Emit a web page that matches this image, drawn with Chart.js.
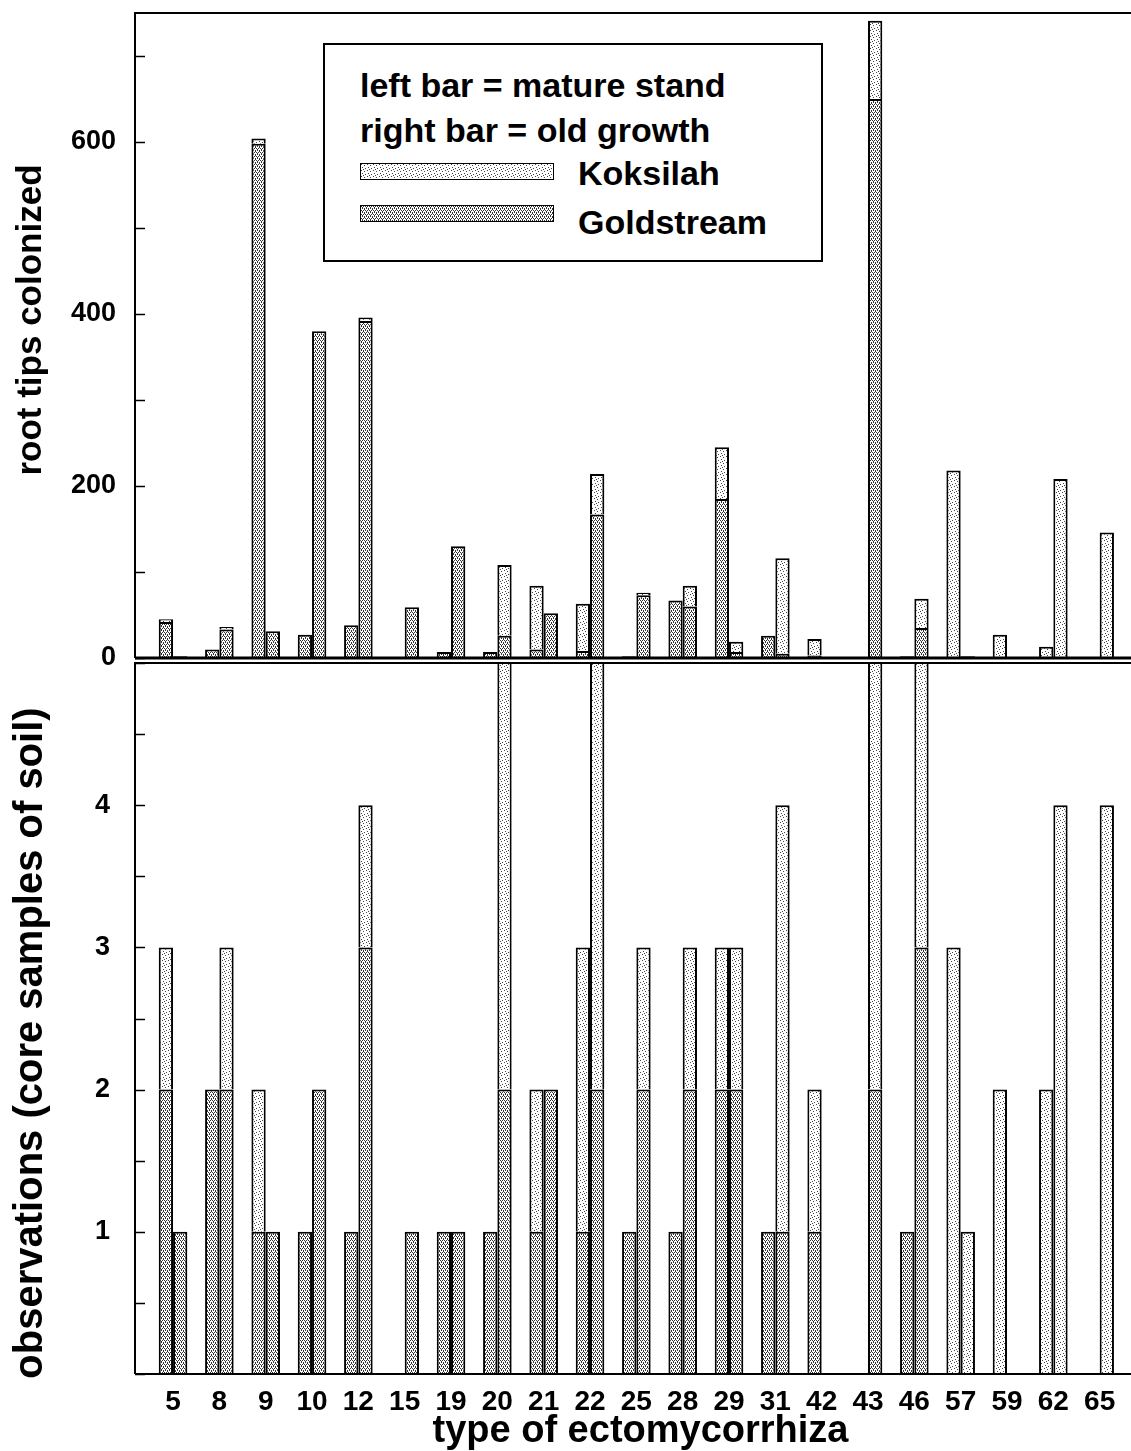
<!DOCTYPE html>
<html>
<head>
<meta charset="utf-8">
<script src="https://cdn.jsdelivr.net/npm/chart.js@4.4.1/dist/chart.umd.min.js"></script>
<style>
  html, body { margin: 0; padding: 0; background: #fff; overflow: hidden; }
  #wrap { position: relative; width: 1131px; height: 1451px; overflow: hidden; }
  canvas { position: absolute; left: 0; }
  #tips { top: 0; }
  #obs { top: 660px; }
  #key {
    position: absolute; left: 323px; top: 43px; width: 496px; height: 215px;
    border: 2px solid #000; background: #fff; z-index: 2;
    font: bold 34px "Liberation Sans", Arial, sans-serif; color: #000;
  }
  #key span { position: absolute; white-space: nowrap; line-height: 34px; }
  #key .sw { position: absolute; left: 35px; width: 192px; height: 15px; border: 1.5px solid #000; }
</style>
</head>
<body>
<div id="wrap">
  <canvas id="tips" width="1146" height="682"></canvas>
  <canvas id="obs" width="1146" height="791"></canvas>
  <div id="key">
    <span style="left:35px; top:23px">left bar = mature stand</span>
    <span style="left:35px; top:68px">right bar = old growth</span>
    <div class="sw" id="swK" style="top:118px"></div>
    <span style="left:253px; top:111px">Koksilah</span>
    <div class="sw" id="swG" style="top:160px"></div>
    <span style="left:253px; top:160px">Goldstream</span>
  </div>
</div>
<script>
const categories = ['5', '8', '9', '10', '12', '15', '19', '20', '21', '22', '25',
                    '28', '29', '31', '42', '43', '46', '57', '59', '62', '65'];

// root tips colonized; left bar = mature stand, right bar = old growth
const tipsMatureGoldstream = [42, 10, 598, 27, 38, 0, 7, 7, 10, 8, 2, 67, 185, 26, 3, 0, 2, 0, 0, 0, 0];
const tipsMatureKoksilah   = [3, 0, 6, 0, 0, 0, 0, 0, 74, 55, 0, 0, 60, 0, 19, 0, 0, 218, 27, 13, 0];
const tipsOldGoldstream    = [2, 33, 31, 380, 392, 59, 130, 26, 52, 167, 73, 60, 7, 5, 0, 650, 35, 0, 0, 0, 0];
const tipsOldKoksilah      = [0, 3, 0, 0, 4, 0, 0, 82, 0, 47, 3, 24, 12, 111, 0, 91, 34, 2, 0, 208, 146];

// observations (core samples of soil)
const obsMatureGoldstream = [2, 2, 1, 1, 1, 0, 1, 1, 1, 1, 1, 1, 2, 1, 1, 0, 1, 0, 0, 0, 0];
const obsMatureKoksilah   = [1, 0, 1, 0, 0, 0, 0, 0, 1, 2, 0, 0, 1, 0, 1, 0, 0, 3, 2, 2, 0];
const obsOldGoldstream    = [1, 2, 1, 2, 3, 1, 1, 2, 2, 2, 2, 2, 2, 1, 0, 2, 3, 0, 0, 0, 0];
const obsOldKoksilah      = [0, 1, 0, 0, 1, 0, 0, 4, 0, 4, 1, 1, 1, 3, 0, 6, 3, 1, 0, 4, 4];

const FONT = "'Liberation Sans', Arial, sans-serif";

// stipple tiles for the two sites
function tile(size, dots, ink) {
  const c = document.createElement('canvas');
  c.width = c.height = size;
  const g = c.getContext('2d');
  g.fillStyle = '#fff';
  g.fillRect(0, 0, size, size);
  g.fillStyle = ink;
  dots.forEach(([x, y]) => g.fillRect(x, y, 1, 1));
  return c;
}
const kokTile = tile(6, [[0, 0], [3, 1], [1, 3], [4, 4], [2, 5]], '#444');
const goldTile = tile(4, [[0, 0], [2, 0], [1, 1], [1, 2], [3, 2], [3, 3]], '#333');

document.getElementById('swK').style.background = `url(${kokTile.toDataURL()})`;
document.getElementById('swG').style.background = `url(${goldTile.toDataURL()})`;

// frame on top/left/bottom, short inward tick marks, rotated axis title
const frame = {
  id: 'frame',
  afterDatasetsDraw(chart, args, opts) {
    const { ctx, chartArea: a } = chart;
    const y = chart.scales.y;
    ctx.save();
    ctx.strokeStyle = '#000';
    ctx.lineWidth = 2;
    ctx.beginPath();
    ctx.moveTo(a.left, a.bottom);
    ctx.lineTo(a.left, a.top);
    ctx.lineTo(a.right, a.top);
    ctx.stroke();
    ctx.lineWidth = opts.baseWidth;
    ctx.beginPath();
    ctx.moveTo(a.left, a.bottom);
    ctx.lineTo(a.right, a.bottom);
    ctx.stroke();
    ctx.lineWidth = 1.5;
    for (let v = y.min; v <= y.max + 1e-9; v += opts.step) {
      const py = Math.round(y.getPixelForValue(v)) + 0.5;
      ctx.beginPath();
      ctx.moveTo(a.left, py);
      ctx.lineTo(a.left + 10, py);
      ctx.stroke();
    }
    ctx.restore();
  },
  afterDraw(chart, args, opts) {
    const ctx = chart.ctx;
    ctx.save();
    ctx.translate(opts.titleX, opts.titleY);
    ctx.rotate(-Math.PI / 2);
    ctx.font = `bold ${opts.titleSize}px ${FONT}`;
    ctx.fillStyle = '#000';
    ctx.textAlign = 'center';
    ctx.textBaseline = 'middle';
    ctx.fillText(opts.title, 0, 0);
    ctx.restore();
  }
};

function points(values) {
  return values.map((v, i) => ({ x: i, y: v === 0 ? null : v }));
}

// Goldstream sits at the foot of each bar, Koksilah on top of it
function datasets(ctx, goldMature, kokMature, goldOld, kokOld) {
  const kok = ctx.createPattern(kokTile, 'repeat');
  const gold = ctx.createPattern(goldTile, 'repeat');
  const common = {
    borderColor: '#000', borderWidth: 2, clip: 0,
    categoryPercentage: 0.617, barPercentage: 1
  };
  return [
    { label: 'Goldstream', stack: 'mature', data: points(goldMature), backgroundColor: gold, ...common },
    { label: 'Koksilah', stack: 'mature', data: points(kokMature), backgroundColor: kok, ...common },
    { label: 'Goldstream', stack: 'old', data: points(goldOld), backgroundColor: gold, ...common },
    { label: 'Koksilah', stack: 'old', data: points(kokOld), backgroundColor: kok, ...common }
  ];
}

function xAxis(show) {
  return {
    type: 'linear', min: -0.821, max: 21, offset: false, display: show,
    afterBuildTicks: axis => { axis.ticks = categories.map((c, i) => ({ value: i })); },
    afterFit: axis => {
      if (show) axis.height = 77;
      axis.paddingLeft = 0;
      axis.paddingRight = 0;
    },
    grid: { display: false, drawTicks: false },
    border: { display: false },
    ticks: {
      autoSkip: false, maxRotation: 0, padding: 11, color: '#000',
      font: { family: FONT, size: 28, weight: 'bold' },
      callback: v => categories[v]
    },
    title: {
      display: show, text: 'type of ectomycorrhiza', color: '#000', padding: 0,
      font: { family: FONT, size: 38, weight: 'bold', lineHeight: 1 }
    }
  };
}

function yAxis(max, step, labelPad, hideLabels) {
  return {
    stacked: true, min: 0, max: max,
    afterFit: axis => {
      axis.width = 135;
      axis.paddingTop = 0;
      axis.paddingBottom = 0;
    },
    grid: { display: false, drawTicks: false },
    border: { display: false },
    ticks: {
      stepSize: step, includeBounds: false, padding: labelPad, color: '#000',
      font: { family: FONT, size: 27, weight: 'bold' },
      callback: v => hideLabels.includes(v) ? '' : v
    }
  };
}

function panel(id, sets, x, y, frameOpts, padding) {
  const ctx = document.getElementById(id).getContext('2d');
  return new Chart(ctx, {
    type: 'bar',
    data: { datasets: sets(ctx) },
    options: {
      responsive: false,
      animation: false,
      devicePixelRatio: 1,
      layout: { padding: padding },
      plugins: { legend: { display: false }, tooltip: { enabled: false }, frame: frameOpts },
      scales: { x: x, y: y }
    },
    plugins: [frame]
  });
}

panel('tips',
  ctx => datasets(ctx, tipsMatureGoldstream, tipsMatureKoksilah, tipsOldGoldstream, tipsOldKoksilah),
  xAxis(false),
  yAxis(750, 200, 19, []),
  { step: 100, baseWidth: 3, title: 'root tips colonized', titleSize: 35, titleX: 31, titleY: 320 },
  { top: 13, bottom: 24, left: 0, right: 0 });

panel('obs',
  ctx => datasets(ctx, obsMatureGoldstream, obsMatureKoksilah, obsOldGoldstream, obsOldKoksilah),
  xAxis(true),
  yAxis(5, 1, 25, [0, 5]),
  { step: 0.5, baseWidth: 2, title: 'observations (core samples of soil)', titleSize: 40, titleX: 31, titleY: 383 },
  { top: 3, bottom: 0, left: 0, right: 0 });
</script>
</body>
</html>
